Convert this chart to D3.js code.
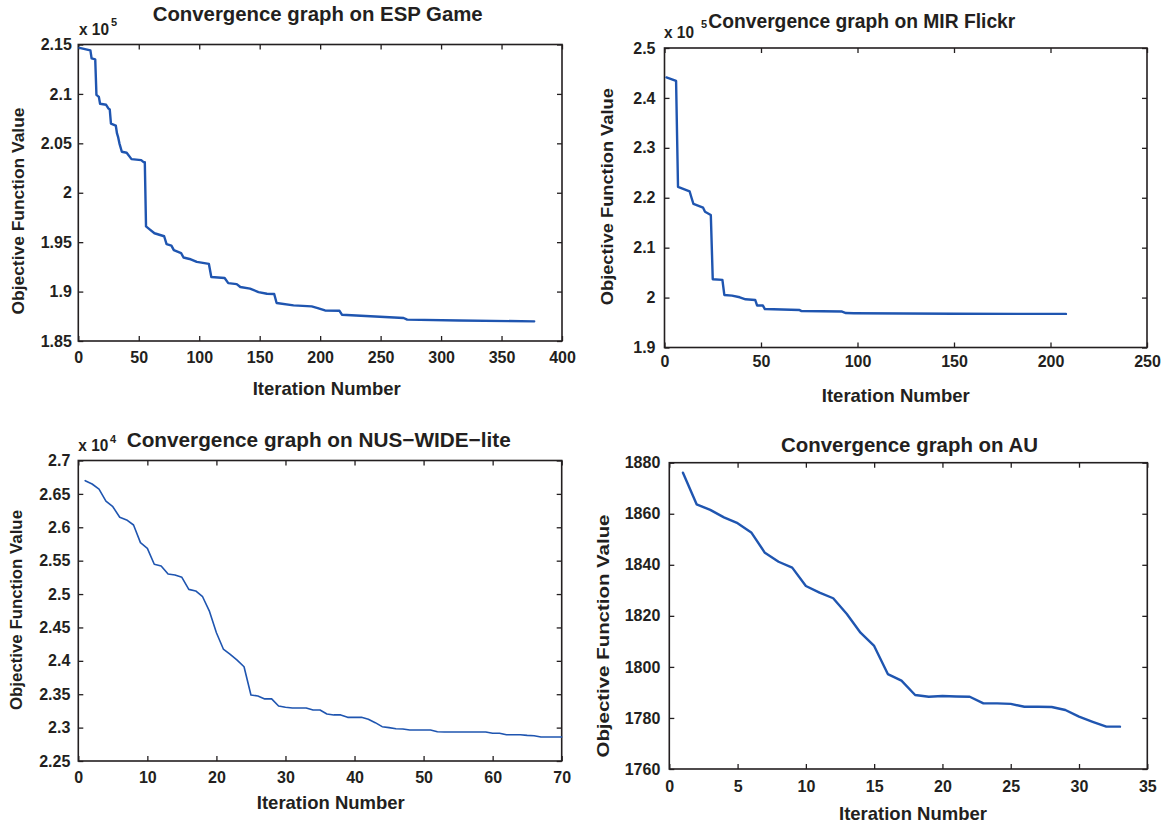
<!DOCTYPE html>
<html><head><meta charset="utf-8">
<script src="https://cdn.jsdelivr.net/npm/d3@7"></script>
<style>
body{margin:0;background:#fff}
svg{display:block}
text{font-family:"Liberation Sans",Arial,Helvetica,sans-serif;font-weight:bold;fill:#231f20}
</style>
</head><body>
<svg id="chart" width="1168" height="826"></svg>
<script>
// ---------------- data ----------------
const titles = ["Convergence graph on ESP Game","Convergence graph on MIR Flickr","Convergence graph on NUS\u2212WIDE\u2212lite","Convergence graph on AU"];
const xLabel = "Iteration Number";
const yLabel = "Objective Function Value";
const exponents = ["5","5","4",null];

const espIter  = [1,10,11,14,15,17,18,23,25,26,27,31,32,33,34,36,40,44,52,54,55,56,59,63,71,73,77,79,85,87,92,98,108,110,121,124,131,134,142,149,156,162,164,178,193,198,204,216,218,269,272,315,377];
const espValue = [2.1466,2.1440,2.1360,2.1350,2.0990,2.0970,2.0900,2.0890,2.0850,2.0845,2.0700,2.0680,2.0600,2.0560,2.0500,2.0415,2.0405,2.0340,2.0330,2.0310,2.0310,1.9660,1.9630,1.9590,1.9560,1.9480,1.9465,1.9420,1.9390,1.9345,1.9330,1.9300,1.9280,1.9147,1.9137,1.9086,1.9076,1.9046,1.9030,1.8995,1.8978,1.8975,1.8884,1.8860,1.8850,1.8833,1.8809,1.8806,1.8766,1.8733,1.8716,1.8707,1.8699];

const mirIter  = [1,6,7,13,14,15,20,21,24,25,30,31,35,39,42,47,48,51,52,70,71,92,94,98,150,208];
const mirValue = [2.441,2.434,2.222,2.213,2.200,2.1875,2.180,2.172,2.1655,2.0367,2.0355,2.0053,2.004,2.0006,1.9966,1.9953,1.984,1.984,1.977,1.975,1.973,1.972,1.969,1.9686,1.9676,1.9673];

const nusIter  = d3.range(1,71);
const nusValue = [2.6698,2.6648,2.6570,2.6393,2.6308,2.6150,2.6110,2.6034,2.5770,2.5685,
                  2.5446,2.5420,2.5300,2.5285,2.5250,2.5070,2.5046,2.4960,2.4740,2.4420,
                  2.4177,2.4098,2.4010,2.3912,2.3489,2.3473,2.3430,2.3430,2.3324,2.3304,
                  2.3294,2.3294,2.3294,2.3264,2.3264,2.3204,2.3190,2.3190,2.3154,2.3154,
                  2.3154,2.3125,2.3074,2.3014,2.3000,2.2984,2.2980,2.2964,2.2964,2.2964,
                  2.2964,2.2939,2.2934,2.2934,2.2934,2.2934,2.2934,2.2934,2.2934,2.2915,
                  2.2915,2.2894,2.2894,2.2894,2.2884,2.2878,2.2859,2.2859,2.2859,2.2859];

const auIter  = d3.range(1,34);
const auValue = [1876.1,1863.7,1861.5,1858.6,1856.3,1852.7,1844.7,1841.2,1838.9,1831.7,
                 1829.1,1826.9,1820.7,1813.4,1808.2,1797.2,1794.6,1789.0,1788.3,1788.6,
                 1788.4,1788.3,1785.7,1785.7,1785.5,1784.4,1784.4,1784.3,1783.1,1780.5,
                 1778.5,1776.6,1776.6];

const espXTicks = [0,50,100,150,200,250,300,350,400];
const espYTicks = [1.85,1.9,1.95,2,2.05,2.1,2.15];
const mirXTicks = [0,50,100,150,200,250];
const mirYTicks = [1.9,2,2.1,2.2,2.3,2.4,2.5];
const nusXTicks = [0,10,20,30,40,50,60,70];
const nusYTicks = [2.25,2.3,2.35,2.4,2.45,2.5,2.55,2.6,2.65,2.7];
const auXTicks  = [0,5,10,15,20,25,30,35];
const auYTicks  = [1760,1780,1800,1820,1840,1860,1880];

// ---------------- layout ----------------
const panels = [
  {iters:espIter, values:espValue, xt:espXTicks, yt:espYTicks, title:titles[0], exp:exponents[0],
   l:78.3, r:562, t:44.5, b:341, lw:2.4,
   tX:152.7, tY:21, tW:330, tFs:21,
   eX:79, eY:35, sX:110, sY:26,
   xlX:326.7, xlY:395, yX:18, yY:211, yW:207,
   xPad:10.5, yPad:6.5},
  {iters:mirIter, values:mirValue, xt:mirXTicks, yt:mirYTicks, title:titles[1], exp:exponents[1],
   l:664.5, r:1147, t:48, b:347.5, lw:2.4,
   tX:708.3, tY:27.5, tW:307, tFs:20,
   eX:664, eY:37.7, sX:700, sY:28,
   xlX:895.8, xlY:401.7, yX:606.7, yY:196.7, yW:217,
   xPad:8, yPad:9},
  {iters:nusIter, values:nusValue, xt:nusXTicks, yt:nusYTicks, title:titles[2], exp:exponents[2],
   l:78.3, r:561.7, t:460.5, b:761, lw:1.6,
   tX:126.7, tY:446.5, tW:384, tFs:21,
   eX:78.3, eY:450.7, sX:109, sY:443,
   xlX:330.8, xlY:809.3, yX:16, yY:610, yW:200,
   xPad:10.6, yPad:8},
  {iters:auIter, values:auValue, xt:auXTicks, yt:auYTicks, title:titles[3], exp:exponents[3],
   l:669.3, r:1147.3, t:462.7, b:769, lw:2.4,
   tX:781, tY:452, tW:257, tFs:21,
   xlX:913, xlY:820, yX:603, yY:636, yW:243,
   xPad:11.2, yPad:9}
];

const svg = d3.select("#chart");
svg.append("rect").attr("width",1168).attr("height",826).attr("fill","#fff");
const fmt = d => String(+(+d).toFixed(2));
const axisColor = "#231f20";

panels.forEach(p => {
  const x = d3.scaleLinear().domain([p.xt[0], p.xt[p.xt.length-1]]).range([p.l, p.r]);
  const y = d3.scaleLinear().domain([p.yt[0], p.yt[p.yt.length-1]]).range([p.b, p.t]);
  const g = svg.append("g");

  const styleAxis = sel => {
    sel.select(".domain").remove();
    sel.selectAll(".tick line").attr("stroke",axisColor).attr("stroke-width",1.3);
    sel.selectAll("text").attr("font-size",16).attr("font-family",null).attr("fill",axisColor);
  };
  g.append("g").attr("transform",`translate(0,${p.b})`)
    .call(d3.axisBottom(x).tickValues(p.xt).tickFormat(fmt).tickSizeInner(-5).tickSizeOuter(0).tickPadding(p.xPad))
    .call(styleAxis);
  g.append("g").attr("transform",`translate(0,${p.t})`)
    .call(d3.axisTop(x).tickValues(p.xt).tickFormat("").tickSizeInner(-5).tickSizeOuter(0))
    .call(styleAxis);
  g.append("g").attr("transform",`translate(${p.l},0)`)
    .call(d3.axisLeft(y).tickValues(p.yt).tickFormat(fmt).tickSizeInner(-5).tickSizeOuter(0).tickPadding(p.yPad))
    .call(styleAxis);
  g.append("g").attr("transform",`translate(${p.r},0)`)
    .call(d3.axisRight(y).tickValues(p.yt).tickFormat("").tickSizeInner(-5).tickSizeOuter(0))
    .call(styleAxis);

  g.append("rect").attr("x",p.l).attr("y",p.t).attr("width",p.r-p.l).attr("height",p.b-p.t)
    .attr("fill","none").attr("stroke",axisColor).attr("stroke-width",1.6);

  const line = d3.line().x((d,i)=>x(p.iters[i])).y(d=>y(d));
  g.append("path").datum(p.values).attr("d",line)
    .attr("fill","none").attr("stroke","#1f55b0").attr("stroke-width",p.lw)
    .attr("stroke-linejoin","round").attr("stroke-linecap","round");

  // title
  g.append("text").attr("x",p.tX).attr("y",p.tY).attr("font-size",p.tFs)
    .attr("textLength",p.tW).attr("lengthAdjust","spacingAndGlyphs").text(p.title);
  // exponent
  if (p.exp) {
    g.append("text").attr("x",p.eX).attr("y",p.eY).attr("font-size",16)
      .attr("textLength",30).attr("lengthAdjust","spacingAndGlyphs").text("x 10");
    g.append("text").attr("x",p.sX + 1).attr("y",p.sY).attr("font-size",11).text(p.exp);
  }
  // x label
  g.append("text").attr("x",p.xlX - 74).attr("y",p.xlY).attr("font-size",19)
    .attr("textLength",148).attr("lengthAdjust","spacingAndGlyphs").text(xLabel);
  // y label
  g.append("text").attr("transform",`translate(${p.yX + 6},${p.yY}) rotate(-90)`)
    .attr("x",-p.yW/2).attr("y",0).attr("font-size",17)
    .attr("textLength",p.yW).attr("lengthAdjust","spacingAndGlyphs").text(yLabel);
});
</script>
</body></html>
